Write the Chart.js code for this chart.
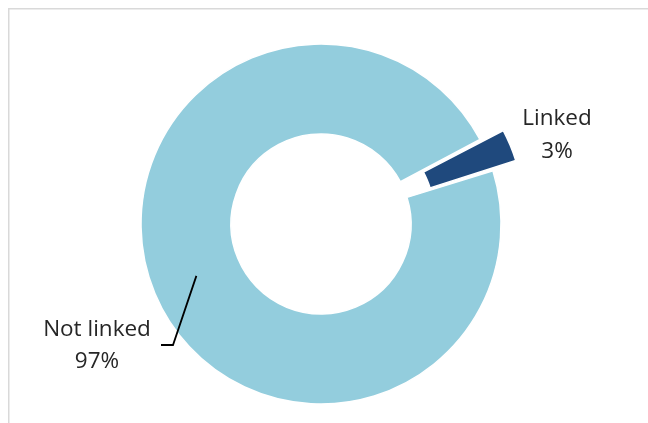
<!DOCTYPE html>
<html>
<head>
<meta charset="utf-8">
<script src="https://cdn.jsdelivr.net/npm/chart.js@4/dist/chart.umd.min.js"></script>
<style>
  html, body { margin: 0; padding: 0; background: #fff; }
  #c { display: block; }
</style>
</head>
<body>
<canvas id="c" width="648" height="423"></canvas>
<script>
const categories = ['Linked', 'Not linked'];
const values = [3, 97];
const percentLabels = ['3%', '97%'];
const colors = ['#1F497D', '#93CDDD'];

const frame = {
  id: 'frame',
  beforeDraw(chart) {
    const ctx = chart.ctx;
    ctx.save();
    ctx.fillStyle = '#fff';
    ctx.fillRect(0, 0, chart.width, chart.height);
    ctx.strokeStyle = '#D9D9D9';
    ctx.lineWidth = 1.5;
    ctx.beginPath();
    ctx.moveTo(8.75, chart.height);
    ctx.lineTo(8.75, 8.75);
    ctx.lineTo(chart.width, 8.75);
    ctx.stroke();
    ctx.restore();
  }
};

const labels = {
  id: 'sliceLabels',
  afterDraw(chart) {
    const ctx = chart.ctx;
    const arcs = chart.getDatasetMeta(0).data;
    ctx.save();
    ctx.font = '22.5px "Open Sans", "Noto Sans", sans-serif';
    ctx.fillStyle = '#262626';
    ctx.textAlign = 'center';
    ctx.textBaseline = 'middle';
    // Linked label, outside the exploded slice
    const a0 = arcs[0];
    const lx = a0.x + 236;
    const ly = a0.y - 89;
    ctx.fillText(categories[0], lx, ly - 16);
    ctx.fillText(percentLabels[0], lx, ly + 17);
    // Not linked label with leader line
    const a1 = arcs[1];
    const m1 = (a1.startAngle + a1.endAngle) / 2;
    const rm = (a1.outerRadius + a1.innerRadius) / 2;
    const sx = a1.x + Math.cos(m1) * rm;
    const sy = a1.y + Math.sin(m1) * rm;
    const ex = a1.x - 148;
    const ey = a1.y + 121;
    ctx.strokeStyle = '#000';
    ctx.lineWidth = 1.8;
    ctx.beginPath();
    ctx.moveTo(sx, sy);
    ctx.lineTo(ex, ey);
    ctx.lineTo(ex - 12, ey);
    ctx.stroke();
    const tx = a1.x - 224;
    ctx.fillText(categories[1], tx, ey - 15);
    ctx.fillText(percentLabels[1], tx, ey + 17);
    ctx.restore();
  }
};

new Chart(document.getElementById('c'), {
  type: 'doughnut',
  data: {
    labels: categories,
    datasets: [{
      data: values,
      backgroundColor: colors,
      borderColor: '#ffffff',
      borderWidth: 1.5,
      offset: [55, 0],
      hoverOffset: 0
    }]
  },
  options: {
    responsive: false,
    animation: false,
    rotation: 62,
    cutout: '50%',
    radius: 180,
    layout: { padding: { left: 0, right: 6, top: 25, bottom: 0 } },
    plugins: {
      legend: { display: false },
      tooltip: { enabled: false }
    }
  },
  plugins: [frame, labels]
});
</script>
</body>
</html>
